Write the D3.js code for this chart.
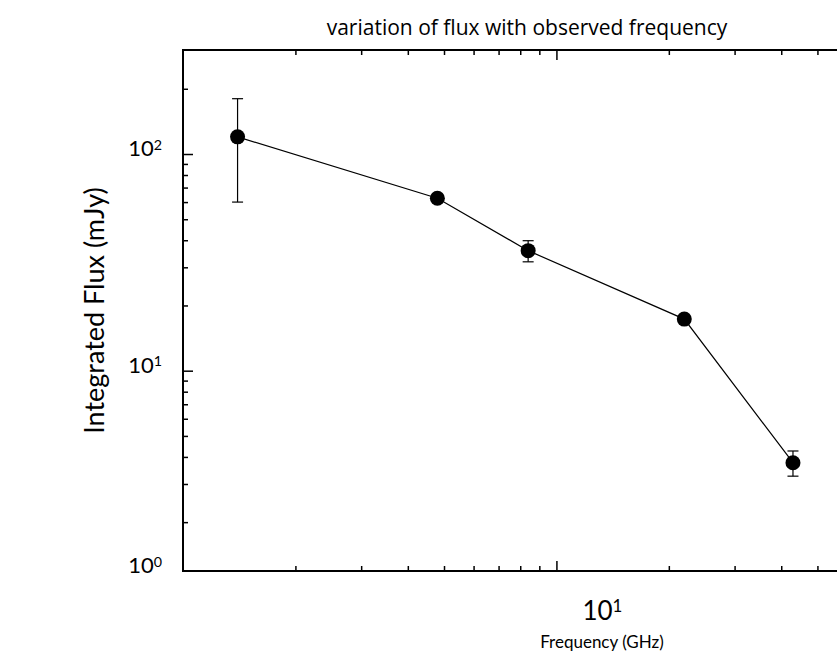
<!DOCTYPE html>
<html>
<head>
<meta charset="utf-8">
<script src="https://cdn.jsdelivr.net/npm/d3@7"></script>
<style>
  body { margin: 0; background: #fff; }
  svg { display: block; }
</style>
</head>
<body>
<div id="chart"></div>
<script>
// data (frequency in GHz, flux in mJy)
var freqGHz = [1.4, 4.8, 8.4, 22, 43];
var fluxMJy = [120, 62.5, 35.8, 17.3, 3.76];
var fluxErr = [60, 0, 4, 0, 0.5];

// axis ticks
var xMajorTicks = [10];
var xMinorTicks = [2, 3, 4, 5, 6, 7, 8, 9, 20, 30, 40, 50, 60];
var yMajorTicks = [10, 100];
var yMinorTicks = [2, 3, 4, 5, 6, 7, 8, 9, 20, 30, 40, 50, 60, 70, 80, 90, 200];
var xTickLabels = [10];
var yTickLabels = [1, 10, 100];

var W = 837, H = 657;
var margin = { top: 50, left: 183 },
    width = 689,
    height = 521;

var svg = d3.select("#chart")
    .append("svg")
    .attr("width", W)
    .attr("height", H);

var g = svg.append("g")
    .attr("transform", "translate(" + margin.left + "," + margin.top + ")");

var x = d3.scaleLog().domain([1, 70]).range([0, width]);
var y = d3.scaleLog().domain([1.19, 302]).range([height, 0]);

var data = freqGHz.map(function (f, i) {
    return { f: f, v: fluxMJy[i], e: fluxErr[i] };
});

// inward ticks, drawn with d3 axes (no domain path)
function ticks(axis, vals, size, tr) {
    var a = g.append("g")
        .attr("transform", tr || null)
        .call(axis.tickValues(vals).tickSize(size).tickFormat(""));
    a.select(".domain").remove();
    a.selectAll("line").attr("stroke", "#000").attr("stroke-width", 1.5);
}
ticks(d3.axisBottom(x), xMinorTicks, -5, "translate(0," + height + ")");
ticks(d3.axisBottom(x), xMajorTicks, -10, "translate(0," + height + ")");
ticks(d3.axisTop(x), xMinorTicks, -5);
ticks(d3.axisTop(x), xMajorTicks, -10);
ticks(d3.axisLeft(y), yMinorTicks, -5);
ticks(d3.axisLeft(y), yMajorTicks, -10);
ticks(d3.axisRight(y), yMinorTicks, -5, "translate(" + width + ",0)");
ticks(d3.axisRight(y), yMajorTicks, -10, "translate(" + width + ",0)");

// frame
g.append("rect")
    .attr("x", 0).attr("y", 0)
    .attr("width", width).attr("height", height)
    .attr("fill", "none")
    .attr("stroke", "#000")
    .attr("stroke-width", 2);

// tick labels with superscript exponents
function powLabel(sel, v) {
    sel.append("tspan").text("10");
    sel.append("tspan")
        .attr("dy", "-0.45em")
        .attr("font-size", "0.65em")
        .text(Math.round(Math.log10(v)));
}

yTickLabels.forEach(function (v) {
    var yy = y(Math.max(v, y.domain()[0]));
    var t = g.append("text")
        .attr("x", -21)
        .attr("y", yy + 2)
        .attr("text-anchor", "end")
        .attr("font-family", "Lato, 'Open Sans', sans-serif")
        .attr("font-size", 22)
        .attr("fill", "#000");
    powLabel(t, v);
});

// the x label sits right of its tick in the original
xTickLabels.forEach(function (v) {
    var t = g.append("text")
        .attr("x", x(v) + 46)
        .attr("y", height + 49)
        .attr("text-anchor", "middle")
        .attr("font-family", "Lato, 'Open Sans', sans-serif")
        .attr("font-size", 26)
        .attr("fill", "#000");
    powLabel(t, v);
});

// error bars
var errData = data.filter(function (d) { return d.e > 0; });
g.selectAll(".err")
    .data(errData)
    .enter()
    .append("line")
    .attr("x1", function (d) { return x(d.f); })
    .attr("x2", function (d) { return x(d.f); })
    .attr("y1", function (d) { return y(d.v + d.e); })
    .attr("y2", function (d) { return y(d.v - d.e); })
    .attr("stroke", "#000")
    .attr("stroke-width", 1.2);
[1, -1].forEach(function (s) {
    g.selectAll(".cap" + s)
        .data(errData)
        .enter()
        .append("line")
        .attr("x1", function (d) { return x(d.f) - 5.5; })
        .attr("x2", function (d) { return x(d.f) + 5.5; })
        .attr("y1", function (d) { return y(d.v + s * d.e); })
        .attr("y2", function (d) { return y(d.v + s * d.e); })
        .attr("stroke", "#000")
        .attr("stroke-width", 1.2);
});

// connecting line
var line = d3.line()
    .x(function (d) { return x(d.f); })
    .y(function (d) { return y(d.v); });
g.append("path")
    .datum(data)
    .attr("d", line)
    .attr("fill", "none")
    .attr("stroke", "#000")
    .attr("stroke-width", 1.2);

// markers
g.selectAll("circle")
    .data(data)
    .enter()
    .append("circle")
    .attr("cx", function (d) { return x(d.f); })
    .attr("cy", function (d) { return y(d.v); })
    .attr("r", 7.5)
    .attr("fill", "#000");

// titles
svg.append("text")
    .attr("x", 527)
    .attr("y", 35)
    .attr("text-anchor", "middle")
    .attr("font-family", "'Open Sans', 'Liberation Sans', sans-serif")
    .attr("font-size", 21)
    .attr("fill", "#000")
    .text("variation of flux with observed frequency");

svg.append("text")
    .attr("x", 602)
    .attr("y", 648)
    .attr("text-anchor", "middle")
    .attr("font-family", "Lato, 'Open Sans', sans-serif")
    .attr("font-size", 17)
    .attr("fill", "#000")
    .text("Frequency (GHz)");

svg.append("text")
    .attr("transform", "translate(104," + (margin.top + height / 2) + ")rotate(-90)")
    .attr("text-anchor", "middle")
    .attr("font-family", "Lato, 'Open Sans', sans-serif")
    .attr("font-size", 27)
    .attr("fill", "#000")
    .text("Integrated Flux (mJy)");
</script>
</body>
</html>
